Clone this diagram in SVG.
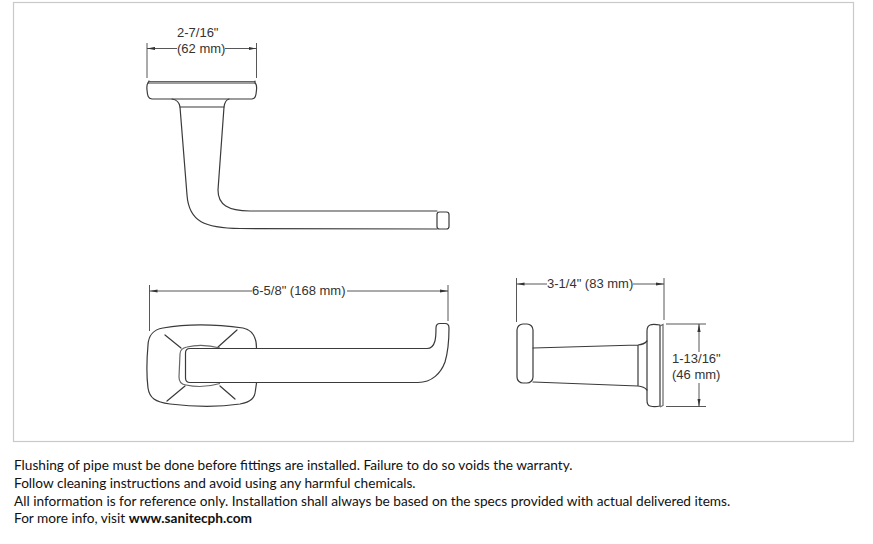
<svg xmlns="http://www.w3.org/2000/svg" width="873" height="544" viewBox="0 0 873 544">
<style>
.o{fill:none;stroke:#3a3a3a;stroke-width:1.2;stroke-linejoin:round;stroke-linecap:round}
.t{fill:none;stroke:#666;stroke-width:1.2}
.d{fill:none;stroke:#444;stroke-width:.9}
.l{font-family:"Liberation Sans",Arial,sans-serif;font-size:13px;fill:#333}
.n{font-family:Lato,"Open Sans",sans-serif;font-size:13.67px;fill:#111}
</style>
<defs>
<marker id="a" viewBox="0 0 8 4" refX="8" refY="2" markerWidth="8" markerHeight="4" markerUnits="userSpaceOnUse" orient="auto-start-reverse"><path d="M0 .4L8 2L0 3.600z" fill="#333"/></marker>
</defs>
<rect width="873" height="544" fill="#fff"/>
<rect id="frame" x="13.500" y="2.500" width="840" height="439" fill="#fff" stroke="#c9c9c9" stroke-width="1.2"/>
<g id="front-view">
<path class="t" d="M149 81.500H255"/>
<path class="o" d="M149 81L148 83C147 84 146.500 85 147 90C147.500 96 148 98.500 152 99H252C255.500 98.500 256 96 256.500 90C257 85 256.500 84 255 83L255 81"/>
<path class="o" d="M148 83H255"/>
<path class="o" d="M172 99Q179 100 180 107L187 195C189 222 205 228 240 228.500L437 229"/>
<path class="o" d="M229 99Q225 100 224 107L218 190C218 205 228 210.500 250 211L437 211"/>
<path class="o" d="M180 107H224"/>
<rect class="o" x="437" y="212" width="12" height="17" rx="2.500"/>
</g>
<g id="top-view">
<path class="o" d="M256.500 348C256.500 336 252 330 243 328C215 324 185 324 163 328C152 330 148.500 336 148 345C146.500 362 146.500 376 148 388C149.500 398 155 402 170 404C195 407 220 407 240 404C251 402 255 398 255.500 390L256.500 383"/>
<path class="o" d="M165 335L181 348M237 330L218 347M185 386L167 401M220 386L235 399"/>
<path class="t" d="M220 348C205 344 195 345 187 347C182 348 180 350 180 354L179 377C179 382 181 384.500 186 385C195 387 208 387 220 383.500"/>
<path class="o" d="M427 348.500H190Q185.500 348.500 185.500 353V378Q185.500 382.500 190 382.500H418C432 382.500 441 373 445 362C448 352 449 340 449 328Q449 323.500 445 323.500H440Q436 323.500 436 328C436 336 436 348.500 427 348.500Z"/>
</g>
<g id="side-view">
<rect class="o" x="517" y="324" width="16" height="59" rx="6"/>
<path class="o" d="M533 348L638 345Q644 344.500 647 341M533 382L638 386Q644 386.500 647 390M638 345V386"/>
<path class="o" d="M660 325C655 324 652 324 650 325C647.500 326 647 328 647 331V400C647 404 647.500 405.500 650 406C653 407 656 407 660 406Z"/>
<path class="t" d="M660 326L663 324.500V405.500L660 407"/>
</g>
<g id="connectors" class="d">
<path d="M147 43V78M256.500 43V78M149.500 285V331M448 285V321M516.500 278V322M664 278V320M666 324H706M666 406.500H706"/>
<path d="M177 48.500H147" marker-end="url(#a)"/>
<path d="M225 48.500H256.500" marker-end="url(#a)"/>
<path d="M252 291H149.500" marker-end="url(#a)"/>
<path d="M347 291H448" marker-end="url(#a)"/>
<path d="M547 284H516.500" marker-end="url(#a)"/>
<path d="M633 284H664" marker-end="url(#a)"/>
<path d="M699 352V324" marker-end="url(#a)"/>
<path d="M699 383V406.500" marker-end="url(#a)"/>
</g>
<g id="labels">
<text class="l" x="177" y="37">2-7/16"</text>
<text class="l" x="177" y="53">(62 mm)</text>
<text class="l" x="252" y="295">6-5/8" (168 mm)</text>
<text class="l" x="547" y="288">3-1/4" (83 mm)</text>
<text class="l" x="672" y="363">1-13/16"</text>
<text class="l" x="672" y="379">(46 mm)</text>
</g>
<g id="notes">
<text class="n" x="14" y="470">Flushing of pipe must be done before fittings are installed. Failure to do so voids the warranty.</text>
<text class="n" x="14" y="488">Follow cleaning instructions and avoid using any harmful chemicals.</text>
<text class="n" x="14" y="506">All information is for reference only. Installation shall always be based on the specs provided with actual delivered items.</text>
<text class="n" x="14" y="523">For more info, visit <tspan font-weight="700">www.sanitecph.com</tspan></text>
</g>
</svg>
